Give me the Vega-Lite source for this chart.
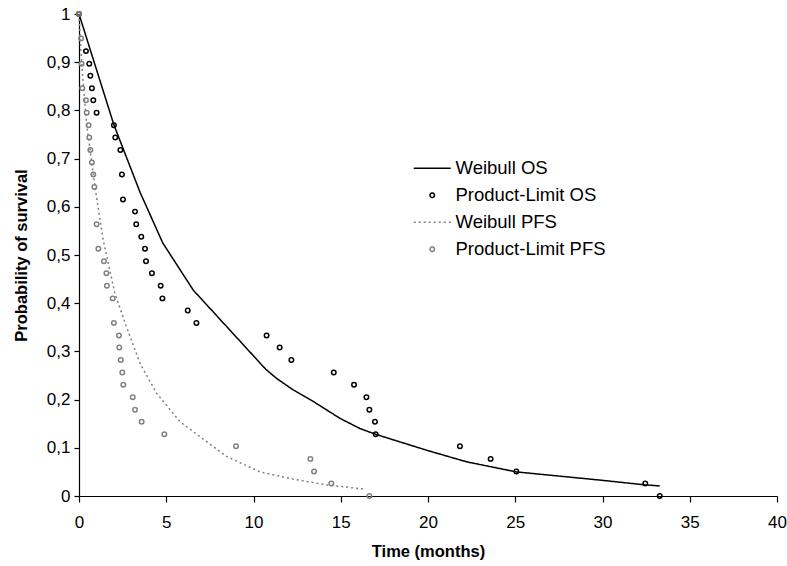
{
  "$schema": "https://vega.github.io/schema/vega-lite/v6.json",
  "width": 698,
  "height": 482,
  "autosize": {"type": "none"},
  "padding": {"left": 79, "top": 14, "right": 10, "bottom": 70},
  "background": "white",
  "config": {
    "view": {"stroke": null},
    "font": "Liberation Sans",
    "axis": {
      "grid": false,
      "domainColor": "black",
      "tickColor": "black",
      "labelColor": "black",
      "titleColor": "black",
      "labelFontSize": 17,
      "titleFontSize": 16.5,
      "titleFontWeight": "bold",
      "domainWidth": 1.2,
      "tickWidth": 1.2
    }
  },
  "data": {
    "values": [
      {"series": "Weibull OS", "kind": "curve", "t": 0, "s": 1},
      {"series": "Weibull OS", "kind": "curve", "t": 1.0, "s": 0.885},
      {"series": "Weibull OS", "kind": "curve", "t": 2.0, "s": 0.77},
      {"series": "Weibull OS", "kind": "curve", "t": 3.5, "s": 0.63},
      {"series": "Weibull OS", "kind": "curve", "t": 4.8, "s": 0.525},
      {"series": "Weibull OS", "kind": "curve", "t": 6.55, "s": 0.427},
      {"series": "Weibull OS", "kind": "curve", "t": 10.7, "s": 0.263},
      {"series": "Weibull OS", "kind": "curve", "t": 11.32, "s": 0.244},
      {"series": "Weibull OS", "kind": "curve", "t": 12.28, "s": 0.22},
      {"series": "Weibull OS", "kind": "curve", "t": 13.43, "s": 0.196},
      {"series": "Weibull OS", "kind": "curve", "t": 14.96, "s": 0.161},
      {"series": "Weibull OS", "kind": "curve", "t": 16.1, "s": 0.14},
      {"series": "Weibull OS", "kind": "curve", "t": 17.0, "s": 0.128},
      {"series": "Weibull OS", "kind": "curve", "t": 19.92, "s": 0.095},
      {"series": "Weibull OS", "kind": "curve", "t": 22.2, "s": 0.071},
      {"series": "Weibull OS", "kind": "curve", "t": 25.06, "s": 0.05},
      {"series": "Weibull OS", "kind": "curve", "t": 29.86, "s": 0.033},
      {"series": "Weibull OS", "kind": "curve", "t": 32.45, "s": 0.023},
      {"series": "Weibull OS", "kind": "curve", "t": 33.28, "s": 0.021},

      {"series": "Weibull PFS", "kind": "curve", "t": 0, "s": 1},
      {"series": "Weibull PFS", "kind": "curve", "t": 0.1, "s": 0.93},
      {"series": "Weibull PFS", "kind": "curve", "t": 0.21, "s": 0.87},
      {"series": "Weibull PFS", "kind": "curve", "t": 0.44, "s": 0.77},
      {"series": "Weibull PFS", "kind": "curve", "t": 0.92, "s": 0.64},
      {"series": "Weibull PFS", "kind": "curve", "t": 1.39, "s": 0.53},
      {"series": "Weibull PFS", "kind": "curve", "t": 2.06, "s": 0.42},
      {"series": "Weibull PFS", "kind": "curve", "t": 2.73, "s": 0.35},
      {"series": "Weibull PFS", "kind": "curve", "t": 3.5, "s": 0.275},
      {"series": "Weibull PFS", "kind": "curve", "t": 4.45, "s": 0.213},
      {"series": "Weibull PFS", "kind": "curve", "t": 5.79, "s": 0.154},
      {"series": "Weibull PFS", "kind": "curve", "t": 6.93, "s": 0.123},
      {"series": "Weibull PFS", "kind": "curve", "t": 8.46, "s": 0.082},
      {"series": "Weibull PFS", "kind": "curve", "t": 10.37, "s": 0.05},
      {"series": "Weibull PFS", "kind": "curve", "t": 12.28, "s": 0.035},
      {"series": "Weibull PFS", "kind": "curve", "t": 14.2, "s": 0.023},
      {"series": "Weibull PFS", "kind": "curve", "t": 16.3, "s": 0.0145},

      {"series": "Product-Limit OS", "kind": "km", "t": 0, "s": 1},
      {"series": "Product-Limit OS", "kind": "km", "t": 0.4, "s": 0.923},
      {"series": "Product-Limit OS", "kind": "km", "t": 0.59, "s": 0.897},
      {"series": "Product-Limit OS", "kind": "km", "t": 0.65, "s": 0.872},
      {"series": "Product-Limit OS", "kind": "km", "t": 0.74, "s": 0.846},
      {"series": "Product-Limit OS", "kind": "km", "t": 0.82, "s": 0.821},
      {"series": "Product-Limit OS", "kind": "km", "t": 1.01, "s": 0.795},
      {"series": "Product-Limit OS", "kind": "km", "t": 2.0, "s": 0.769},
      {"series": "Product-Limit OS", "kind": "km", "t": 2.08, "s": 0.744},
      {"series": "Product-Limit OS", "kind": "km", "t": 2.37, "s": 0.718},
      {"series": "Product-Limit OS", "kind": "km", "t": 2.46, "s": 0.667},
      {"series": "Product-Limit OS", "kind": "km", "t": 2.52, "s": 0.615},
      {"series": "Product-Limit OS", "kind": "km", "t": 3.21, "s": 0.59},
      {"series": "Product-Limit OS", "kind": "km", "t": 3.28, "s": 0.564},
      {"series": "Product-Limit OS", "kind": "km", "t": 3.57, "s": 0.538},
      {"series": "Product-Limit OS", "kind": "km", "t": 3.78, "s": 0.513},
      {"series": "Product-Limit OS", "kind": "km", "t": 3.84, "s": 0.487},
      {"series": "Product-Limit OS", "kind": "km", "t": 4.18, "s": 0.462},
      {"series": "Product-Limit OS", "kind": "km", "t": 4.68, "s": 0.436},
      {"series": "Product-Limit OS", "kind": "km", "t": 4.78, "s": 0.41},
      {"series": "Product-Limit OS", "kind": "km", "t": 6.23, "s": 0.385},
      {"series": "Product-Limit OS", "kind": "km", "t": 6.73, "s": 0.359},
      {"series": "Product-Limit OS", "kind": "km", "t": 10.75, "s": 0.333},
      {"series": "Product-Limit OS", "kind": "km", "t": 11.5, "s": 0.308},
      {"series": "Product-Limit OS", "kind": "km", "t": 12.17, "s": 0.282},
      {"series": "Product-Limit OS", "kind": "km", "t": 14.6, "s": 0.256},
      {"series": "Product-Limit OS", "kind": "km", "t": 15.76, "s": 0.231},
      {"series": "Product-Limit OS", "kind": "km", "t": 16.47, "s": 0.205},
      {"series": "Product-Limit OS", "kind": "km", "t": 16.64, "s": 0.179},
      {"series": "Product-Limit OS", "kind": "km", "t": 16.96, "s": 0.154},
      {"series": "Product-Limit OS", "kind": "km", "t": 17.0, "s": 0.128},
      {"series": "Product-Limit OS", "kind": "km", "t": 21.83, "s": 0.103},
      {"series": "Product-Limit OS", "kind": "km", "t": 23.59, "s": 0.077},
      {"series": "Product-Limit OS", "kind": "km", "t": 25.06, "s": 0.051},
      {"series": "Product-Limit OS", "kind": "km", "t": 32.45, "s": 0.026},
      {"series": "Product-Limit OS", "kind": "km", "t": 33.28, "s": 0},

      {"series": "Product-Limit PFS", "kind": "km", "t": 0, "s": 1},
      {"series": "Product-Limit PFS", "kind": "km", "t": 0.12, "s": 0.949},
      {"series": "Product-Limit PFS", "kind": "km", "t": 0.15, "s": 0.897},
      {"series": "Product-Limit PFS", "kind": "km", "t": 0.19, "s": 0.846},
      {"series": "Product-Limit PFS", "kind": "km", "t": 0.4, "s": 0.821},
      {"series": "Product-Limit PFS", "kind": "km", "t": 0.44, "s": 0.795},
      {"series": "Product-Limit PFS", "kind": "km", "t": 0.55, "s": 0.769},
      {"series": "Product-Limit PFS", "kind": "km", "t": 0.59, "s": 0.744},
      {"series": "Product-Limit PFS", "kind": "km", "t": 0.65, "s": 0.718},
      {"series": "Product-Limit PFS", "kind": "km", "t": 0.74, "s": 0.692},
      {"series": "Product-Limit PFS", "kind": "km", "t": 0.82, "s": 0.667},
      {"series": "Product-Limit PFS", "kind": "km", "t": 0.88, "s": 0.641},
      {"series": "Product-Limit PFS", "kind": "km", "t": 1.01, "s": 0.564},
      {"series": "Product-Limit PFS", "kind": "km", "t": 1.11, "s": 0.513},
      {"series": "Product-Limit PFS", "kind": "km", "t": 1.43, "s": 0.487},
      {"series": "Product-Limit PFS", "kind": "km", "t": 1.57, "s": 0.462},
      {"series": "Product-Limit PFS", "kind": "km", "t": 1.6, "s": 0.436},
      {"series": "Product-Limit PFS", "kind": "km", "t": 1.93, "s": 0.41},
      {"series": "Product-Limit PFS", "kind": "km", "t": 2.0, "s": 0.359},
      {"series": "Product-Limit PFS", "kind": "km", "t": 2.29, "s": 0.333},
      {"series": "Product-Limit PFS", "kind": "km", "t": 2.31, "s": 0.308},
      {"series": "Product-Limit PFS", "kind": "km", "t": 2.39, "s": 0.282},
      {"series": "Product-Limit PFS", "kind": "km", "t": 2.48, "s": 0.256},
      {"series": "Product-Limit PFS", "kind": "km", "t": 2.54, "s": 0.231},
      {"series": "Product-Limit PFS", "kind": "km", "t": 3.08, "s": 0.205},
      {"series": "Product-Limit PFS", "kind": "km", "t": 3.21, "s": 0.179},
      {"series": "Product-Limit PFS", "kind": "km", "t": 3.59, "s": 0.154},
      {"series": "Product-Limit PFS", "kind": "km", "t": 4.89, "s": 0.128},
      {"series": "Product-Limit PFS", "kind": "km", "t": 9.0, "s": 0.103},
      {"series": "Product-Limit PFS", "kind": "km", "t": 13.26, "s": 0.077},
      {"series": "Product-Limit PFS", "kind": "km", "t": 13.47, "s": 0.051},
      {"series": "Product-Limit PFS", "kind": "km", "t": 14.46, "s": 0.026},
      {"series": "Product-Limit PFS", "kind": "km", "t": 16.64, "s": 0}
    ]
  },
  "encoding": {
    "x": {
      "field": "t",
      "type": "quantitative",
      "scale": {"domain": [0, 40], "nice": false, "zero": true},
      "axis": {
        "title": "Time (months)",
        "values": [0, 5, 10, 15, 20, 25, 30, 35, 40],
        "tickSize": 6,
        "labelPadding": 12,
        "titlePadding": 13,
        "labelFlush": false
      }
    },
    "y": {
      "field": "s",
      "type": "quantitative",
      "scale": {"domain": [0, 1], "nice": false},
      "axis": {
        "title": "Probability of survival",
        "values": [0, 0.1, 0.2, 0.3, 0.4, 0.5, 0.6, 0.7, 0.8, 0.9, 1],
        "labelExpr": "replace(format(datum.value, '.1~f'), '.', ',')",
        "tickSize": 5,
        "labelPadding": 4,
        "titlePadding": 17,
        "labelFlush": false
      }
    },
    "color": {
      "field": "series",
      "type": "nominal",
      "scale": {
        "domain": ["Weibull OS", "Product-Limit OS", "Weibull PFS", "Product-Limit PFS"],
        "range": ["#000000", "#000000", "#808080", "#808080"]
      },
      "legend": {
        "title": null,
        "orient": "none",
        "legendX": 344,
        "legendY": 145,
        "padding": 0,
        "symbolSize": 1369,
        "symbolStrokeWidth": 1.5,
        "labelFontSize": 18.5,
        "labelColor": "black",
        "labelOffset": 14,
        "rowPadding": 8,
        "symbolOpacity": 1,
        "encode": {
          "symbols": {
            "update": {
              "shape": {"signal": "indexof(['Weibull OS','Weibull PFS'], datum.value) >= 0 ? 'stroke' : 'circle'"},
              "size": {"signal": "indexof(['Weibull OS','Weibull PFS'], datum.value) >= 0 ? 1369 : 20"},
              "strokeDash": {"signal": "datum.value == 'Weibull PFS' ? [2,3] : [1,0]"},
              "fill": {"value": "transparent"},
              "strokeWidth": {"value": 1.5},
              "opacity": {"value": 1}
            }
          }
        }
      }
    }
  },
  "layer": [
    {
      "transform": [{"filter": "datum.kind == 'curve'"}],
      "mark": {"type": "line", "strokeWidth": 1.5, "clip": false},
      "encoding": {
        "strokeDash": {
          "field": "series",
          "type": "nominal",
          "scale": {
            "domain": ["Weibull OS", "Product-Limit OS", "Weibull PFS", "Product-Limit PFS"],
            "range": [[1, 0], [1, 0], [2, 3], [1, 0]]
          },
          "legend": null
        },
        "order": {"field": "t"}
      }
    },
    {
      "transform": [{"filter": "datum.kind == 'km'"}],
      "mark": {"type": "point", "filled": false, "size": 20, "strokeWidth": 1.5, "opacity": 1, "clip": false}
    }
  ]
}
